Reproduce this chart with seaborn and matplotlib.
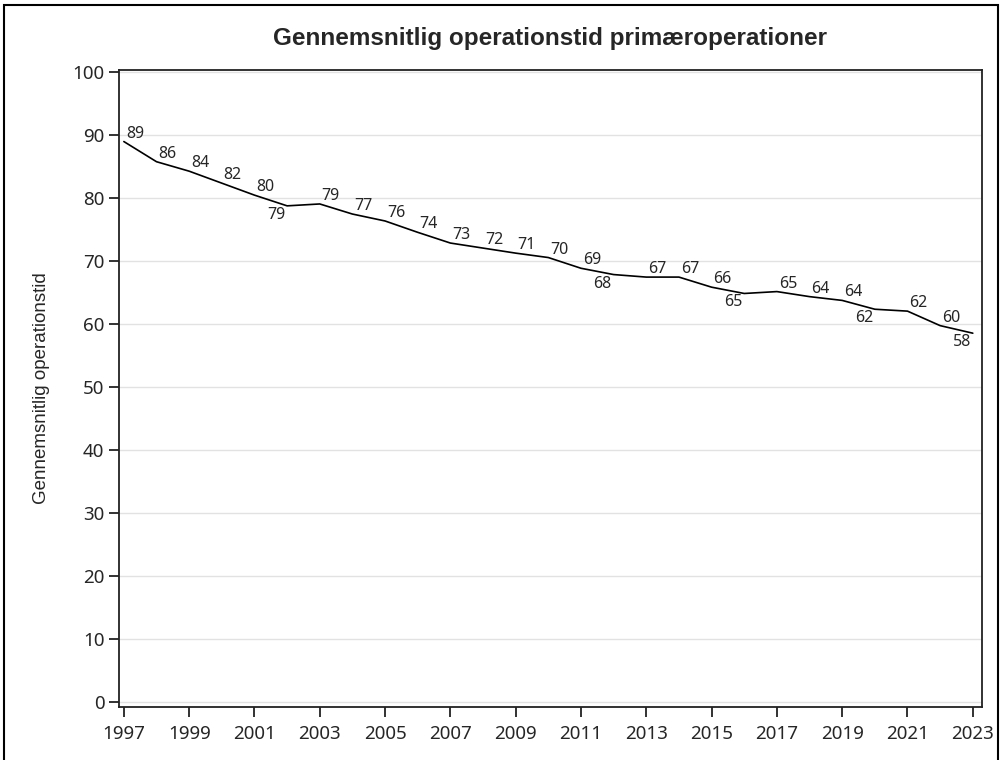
import pandas as pd
import matplotlib.pyplot as plt
import seaborn as sns
from matplotlib.patches import Rectangle

years = list(range(1997, 2024))
tid = [88.9, 85.7, 84.2, 82.3, 80.4, 78.7, 79.0, 77.4, 76.3, 74.5, 72.8, 72.0, 71.2,
       70.5, 68.8, 67.8, 67.4, 67.4, 65.8, 64.8, 65.1, 64.3, 63.7, 62.3, 62.0, 59.7, 58.5]
below_years = [2002, 2012, 2016, 2020, 2023]
xtick_years = list(range(1997, 2024, 2))
yticks = list(range(0, 101, 10))

data = pd.DataFrame({"Aar": years, "Tid": tid})

sns.set_style("white")
plt.rcParams["font.family"] = ["Noto Sans", "DejaVu Sans"]

fig = plt.figure(figsize=(10.03, 7.6), dpi=100)
ax = fig.add_axes([0.1186, 0.0697, 0.8604, 0.8382])

sns.lineplot(data=data, x="Aar", y="Tid", color="black", linewidth=1.2, ax=ax)

for yr, v in zip(years, tid):
    if yr in below_years:
        ax.annotate(f"{round(v)}", (yr, v), xytext=(-11, -9), textcoords="offset pixels",
                    ha="center", va="center", fontsize=11.5)
    else:
        ax.annotate(f"{round(v)}", (yr, v), xytext=(11, 8), textcoords="offset pixels",
                    ha="center", va="center", fontsize=11.5)

ax.set_xlim(1996.85, 2023.28)
ax.set_ylim(-0.8, 100.25)
ax.set_xticks(xtick_years)
ax.set_xticklabels([str(y) for y in xtick_years])
ax.set_yticks(yticks)
ax.grid(axis="y", color="#e2e2e2", linewidth=1)
ax.tick_params(axis="both", direction="out", length=7, width=1.3, labelsize=13.5, color="#222222",
               left=True, bottom=True)
ax.tick_params(axis="x", pad=6)
for s in ax.spines.values():
    s.set_color("#222222")
    s.set_linewidth(1.3)

ax.set_xlabel("")
ax.set_ylabel("Gennemsnitlig operationstid", fontsize=13.5, family="Liberation Sans", labelpad=16)
ax.set_title("Gennemsnitlig operationstid primæroperationer", fontsize=17.5, fontweight="bold",
             family="Liberation Sans", pad=18)

fig.patches.append(Rectangle((0.004, -0.02), 0.991, 1.014, transform=fig.transFigure,
                             fill=False, edgecolor="black", linewidth=1.5))

fig.savefig("out.png", dpi=100)
